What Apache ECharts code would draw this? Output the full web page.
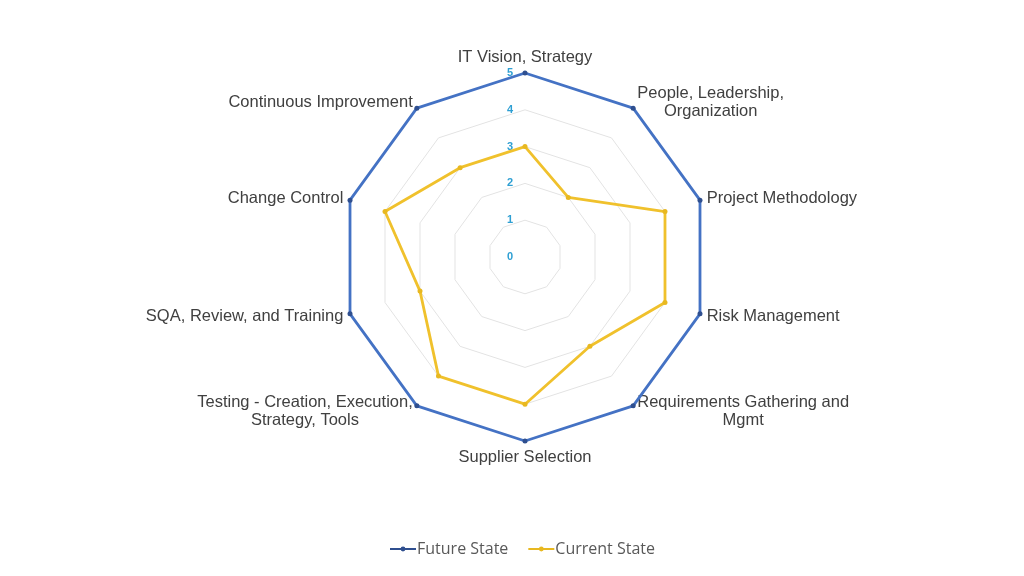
<!DOCTYPE html>
<html>
<head>
<meta charset="utf-8">
<script src="https://cdn.jsdelivr.net/npm/echarts@6/dist/echarts.min.js"></script>
<style>
  html, body { margin: 0; padding: 0; background: #fff; }
  #chart { width: 1024px; height: 576px; }
</style>
</head>
<body>
<div id="chart"></div>
<script>
// axis names, clockwise from the top
var categories = [
  'IT Vision, Strategy',
  'People, Leadership,\nOrganization',
  'Project Methodology',
  'Risk Management',
  'Requirements Gathering and\nMgmt',
  'Supplier Selection',
  'Testing - Creation, Execution,\nStrategy, Tools',
  'SQA, Review, and Training',
  'Change Control',
  'Continuous Improvement'
]
var futureState = [5, 5, 5, 5, 5, 5, 5, 5, 5, 5]
var currentState = [3, 2, 4, 4, 3, 4, 4, 3, 4, 3]
var scaleMax = 5

// echarts radar runs counter-clockwise, so keep the first one on top and flip the rest
function clockwise (arr) {
  return [arr[0]].concat(arr.slice(1).reverse())
}

var indicators = clockwise(categories).map(function (name, i) {
  var ind = { name: name, min: 0, max: scaleMax }
  // tick labels only on the top axis
  if (i > 0) ind.axisLabel = { show: false }
  return ind
})

var nameFont = { color: '#404040', fontFamily: 'Liberation Sans', fontSize: 16.5, lineHeight: 18 }
var lineDot = 'path://M0,4 L26,4 L26,6 L0,6 Z M13,2.6 A2.4,2.4 0 1 1 13,7.4 A2.4,2.4 0 1 1 13,2.6 Z'

var chart = echarts.init(document.getElementById('chart'))
var option = {
  animation: false,
  legend: {
    top: 536,
    left: 385,
    itemWidth: 26,
    itemHeight: 10,
    itemGap: 20,
    textStyle: { fontFamily: 'Open Sans', fontSize: 16, color: '#595959', padding: [0, 0, 0, -4] },
    data: [
      { name: 'Future State', icon: lineDot },
      { name: 'Current State', icon: lineDot }
    ]
  },
  radar: {
    center: [525, 257],
    radius: 184,
    shape: 'polygon',
    splitNumber: 5,
    startAngle: 90,
    indicator: indicators,
    axisName: {
      color: nameFont.color,
      fontFamily: nameFont.fontFamily,
      fontSize: nameFont.fontSize,
      lineHeight: nameFont.lineHeight,
      // centre every line of a wrapped name, like the original
      formatter: function (name) {
        return name.split('\n').map(function (l) { return '{c|' + l + '}' }).join('\n')
      },
      rich: {
        c: Object.assign({ align: 'center' }, nameFont)
      }
    },
    nameGap: 7,
    axisLine: { show: false },
    splitArea: { show: false },
    splitLine: { lineStyle: { color: '#e3e3e3', width: 1 } },
    axisTick: { show: false },
    axisLabel: {
      show: true,
      color: '#2e9fd3',
      fontSize: 11,
      fontWeight: 'bold',
      fontFamily: 'Liberation Sans',
      margin: 12
    }
  },
  series: [{
    type: 'radar',
    symbol: 'circle',
    symbolSize: 5,
    data: [
      {
        name: 'Future State',
        value: clockwise(futureState),
        lineStyle: { color: '#4472c4', width: 2.8 },
        itemStyle: { color: '#2f4f8f' }
      },
      {
        name: 'Current State',
        value: clockwise(currentState),
        lineStyle: { color: '#f0c12c', width: 2.8 },
        itemStyle: { color: '#e8b820' }
      }
    ]
  }]
}
chart.setOption(option)
</script>
</body>
</html>
